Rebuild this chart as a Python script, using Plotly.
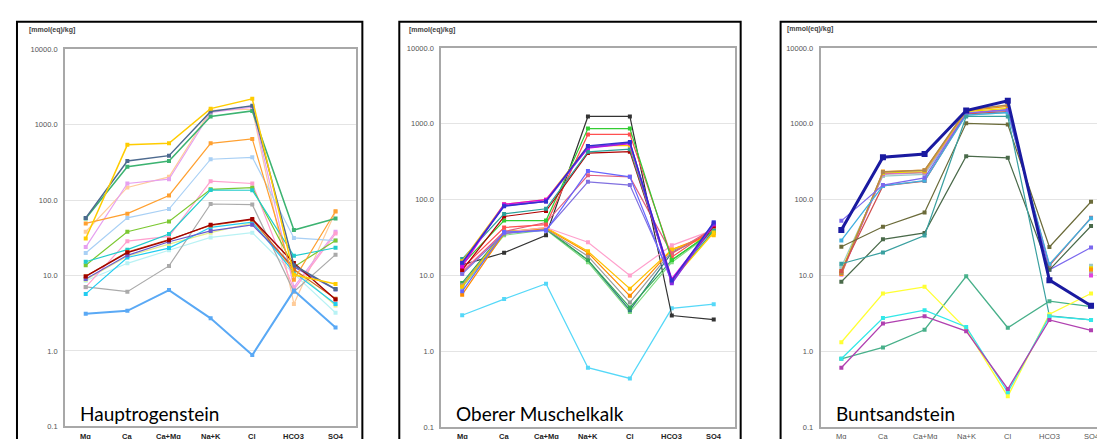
import plotly.graph_objects as go

categories = ["Mg", "Ca", "Ca+Mg", "Na+K", "Cl", "HCO3", "SO4"]
y_tickvals = [0.1, 1, 10, 100, 1000, 10000]
y_ticktext = ["0.1", "1.0", "10.0", "100.0", "1000.0", "10000.0"]
unit_label = "[mmol(eq)/kg]"
panel_titles = ["Hauptrogenstein", "Oberer Muschelkalk", "Buntsandstein"]

# ---------------- Hauptrogenstein ----------------
hr_lightcyan = [8.5, 14.5, 21.6, 32, 37, 10.5, 3.2]
hr_paleyellow = [8.8, 18, 26, 37, 49.6, 12, 4.0]
hr_peach = [38, 147, 203, 1550, 1600, 4.2, 70]
hr_violet = [23.8, 166, 189, 1450, 1700, 7, 38]
hr_pink = [7, 28.5, 33, 178, 166, 6.5, 36]
hr_lightblue = [19.9, 58, 76, 348, 369, 31.5, 29]
hr_grey = [7.05, 6.1, 13.4, 88.7, 87, 6.1, 18.9]
hr_lime = [13.7, 38, 52, 139, 146, 13, 29]
hr_turq = [15.2, 22, 35.5, 136, 135, 18.2, 23.3]
hr_cyan = [5.7, 17.3, 23.1, 43.5, 51, 11, 4.2]
hr_purple = [9.0, 18.5, 28, 39, 47, 13, 6.5]
hr_brown = [9.8, 20.5, 30, 46, 55, 12, 4.9]
hr_darkred = [9.7, 20.1, 29.4, 46.9, 56, 14.6, 4.8]
hr_orange = [49, 66, 115, 566, 646, 8.8, 71]
hr_green = [57, 277, 330, 1280, 1520, 40, 57]
hr_slate = [58, 330, 388, 1490, 1780, 13.7, 6.6]
hr_gold = [31, 540, 566, 1630, 2200, 10.2, 7.7]
hr_blue = [3.1, 3.4, 6.4, 2.7, 0.88, 6.3, 2.05]

# ---------------- Oberer Muschelkalk ----------------
om_cyan = [3.0, 4.9, 7.8, 0.61, 0.44, 3.7, 4.2]
om_black = [13.8, 20, 34, 1250, 1250, 2.97, 2.63]
om_lightgreen = [7.0, 34, 40, 15, 3.3, 15, 38]
om_teal2 = [7.5, 36, 41, 16, 3.5, 20, 38]
om_green2 = [8.0, 38, 41, 16, 3.8, 16, 39]
om_grey = [7.5, 37, 41, 18, 4.4, 21, 37]
om_orange = [5.6, 36, 42, 20, 5.4, 22, 36]
om_gold = [7.2, 37.5, 43, 20.9, 6.7, 22, 34]
om_pink = [11.5, 37, 43, 27.5, 10, 25, 40]
om_rose = [11, 38, 50, 210, 200, 19.5, 42]
om_slateviolet = [10.5, 36, 40, 172, 156, 9, 42]
om_blueviolet = [6.2, 37.5, 39, 239, 200, 8.2, 50]
om_red = [12.5, 43, 47, 725, 725, 17.5, 42]
om_green = [14, 53, 53, 865, 865, 16, 39]
om_darkred = [11.8, 60, 71, 411, 430, 8.7, 45]
om_teal = [16.5, 65, 76, 428, 463, 8.7, 39]
om_yellow = [15.5, 87, 100, 510, 520, 8.5, 37]
om_magenta = [13.2, 87, 100, 480, 550, 9, 47]
om_purple = [14.5, 84, 95, 490, 560, 7.9, 48]
om_blue = [14.8, 82, 95, 512, 576, 8.6, 50]

# ---------------- Buntsandstein ----------------
bs_lightteal = [13, 205, 215, 1300, 1400, None, 13.5]
bs_grey = [11, 215, 225, 1350, 1500, None, 11]
bs_magenta2 = [10.3, 220, 230, 1400, 1550, None, 10]
bs_yellow2 = [11.5, 225, 235, 1450, 1600, None, 12.5]
bs_orange = [10.5, 235, 245, 1480, 1700, None, 12]
bs_tan = [10.8, 232, 244, 1520, 1770, None, None]
bs_red = [11.5, 152, 176, 1350, 1450, 13.5, 58]
bs_skyblue = [29, 152, 178, 1300, 1410, 14.1, 57]
bs_blueviolet = [52.6, 156, 194, 1380, 1525, 11.9, 23.4]
bs_olive = [24, 44, 68, 1016, 977, 23.8, 94]
bs_darkgreen = [8.3, 30, 36.5, 374, 356, 11.9, 45]
bs_teal = [14.3, 20.2, 33.7, 1250, 1250, 2.95, 2.6]
bs_seagreen = [0.8, 1.13, 1.93, 9.8, 2.05, 4.6, 3.9]
bs_yellow = [1.32, 5.8, 7.1, 1.97, 0.256, 3.1, 5.8]
bs_cyan = [0.8, 2.75, 3.5, 2.1, 0.29, 2.9, 2.6]
bs_violet = [0.61, 2.33, 2.9, 1.85, 0.32, 2.6, 1.9]
bs_navy = [39.9, 363, 401, 1495, 2010, 8.7, 4.0]

panel1 = [
    (hr_lightcyan, "#b8f2f4", 1.2), (hr_paleyellow, "#e4ef8c", 1.2),
    (hr_peach, "#ffcc99", 1.2), (hr_violet, "#e6a0f0", 1.2),
    (hr_pink, "#ff9fce", 1.2), (hr_lightblue, "#a9d0f5", 1.2),
    (hr_grey, "#aaaaaa", 1.2), (hr_lime, "#7cc832", 1.2),
    (hr_turq, "#22cccc", 1.2), (hr_cyan, "#22ccf0", 1.2),
    (hr_purple, "#6a5acd", 1.2), (hr_brown, "#d2691e", 1.2),
    (hr_darkred, "#a00000", 1.4), (hr_orange, "#ffa030", 1.2),
    (hr_green, "#3cb371", 1.5), (hr_slate, "#4d6a8f", 1.5),
    (hr_gold, "#ffcc00", 1.5), (hr_blue, "#5aa9f5", 2.0),
]
panel2 = [
    (om_cyan, "#55d8f8", 1.3), (om_black, "#333333", 1.2),
    (om_lightgreen, "#80dd80", 1.2), (om_teal2, "#2f7f7f", 1.2),
    (om_green2, "#33aa55", 1.2), (om_grey, "#999999", 1.2),
    (om_orange, "#ff8c00", 1.2), (om_gold, "#ffc000", 1.2),
    (om_pink, "#ffa0cc", 1.2), (om_rose, "#e06080", 1.2),
    (om_slateviolet, "#8070e0", 1.2), (om_blueviolet, "#6666ff", 1.2),
    (om_red, "#ff5050", 1.2), (om_green, "#33cc33", 1.2),
    (om_darkred, "#b00000", 1.2), (om_teal, "#2aa198", 1.2),
    (om_yellow, "#ffd000", 1.3), (om_magenta, "#e000e0", 1.4),
    (om_purple, "#8a2be2", 1.8), (om_blue, "#3030d0", 1.4),
]
panel3 = [
    (bs_lightteal, "#9cc8c8", 1.2), (bs_grey, "#b0b0b0", 1.2),
    (bs_magenta2, "#e040e0", 1.2), (bs_yellow2, "#e8e000", 1.2),
    (bs_orange, "#ff9900", 1.2), (bs_tan, "#b08850", 1.4),
    (bs_red, "#d05050", 1.2), (bs_skyblue, "#40b0e0", 1.3),
    (bs_blueviolet, "#7b68ee", 1.2), (bs_olive, "#6b6b3a", 1.2),
    (bs_darkgreen, "#4a6a4a", 1.2), (bs_teal, "#3aa0a0", 1.2),
    (bs_seagreen, "#48b08a", 1.3), (bs_yellow, "#ffff33", 1.3),
    (bs_cyan, "#33e8e8", 1.3), (bs_violet, "#b040b0", 1.3),
    (bs_navy, "#1a1aa0", 3.0),
]

W, H = 1105, 439
fig = go.Figure()

# plot-area pixel geometry: (left, right, top, bottom, x-range end)
geoms = [
    (57, 349, 38, 423, 6.5),
    (434, 728, 36.7, 424, 6.5),
    (814, 1105, 36.7, 424, 6.48),
]
frames = [(9, 355), (392, 734), (774, 1115)]
panels = [panel1, panel2, panel3]
label_pos = [(19, 18), (400, 18), (778, 17)]
tick_bold = [True, True, False]

for i, (series, g) in enumerate(zip(panels, geoms)):
    left, right, top, bottom, xend = g
    xa = "xaxis" if i == 0 else f"xaxis{i+1}"
    ya = "yaxis" if i == 0 else f"yaxis{i+1}"
    xr = "x" if i == 0 else f"x{i+1}"
    yr = "y" if i == 0 else f"y{i+1}"
    for vals, col, lw in series:
        fig.add_trace(go.Scatter(
            x=categories, y=vals, mode="lines+markers", xaxis=xr, yaxis=yr,
            line=dict(color=col, width=lw),
            marker=dict(symbol="square", size=4 if lw < 2.5 else 6, color=col),
            connectgaps=False, showlegend=False, hoverinfo="skip"))
    fig.update_layout(**{
        xa: dict(domain=[left / W, min(right / W, 1.0)], anchor=yr,
                 type="category", categoryorder="array", categoryarray=categories,
                 range=[-0.5, xend], showgrid=False, showline=True, mirror=True,
                 linecolor="#a8a8a8", linewidth=1.5, showticklabels=False,
                 zeroline=False),
        ya: dict(domain=[(H - bottom) / H, (H - top) / H], anchor=xr,
                 type="log", range=[-1, 4], tickvals=y_tickvals, ticktext=y_ticktext,
                 showgrid=True, gridcolor="#e4e4e4", gridwidth=1.2,
                 showline=True, mirror=True, linecolor="#a8a8a8", linewidth=1.5,
                 ticks="outside", ticklen=4, tickcolor="rgba(0,0,0,0)",
                 tickfont=dict(family="Liberation Sans", size=7.5, color="#555555"),
                 zeroline=False),
    })
    # category labels below the plot
    xfont = dict(family="Liberation Sans", size=7.5,
                 color="#222222" if tick_bold[i] else "#555555",
                 weight="bold" if tick_bold[i] else "normal")
    for c in categories:
        fig.add_annotation(xref=xr, yref="paper", x=c, y=(H - 433) / H,
                           text=c, showarrow=False, xanchor="center",
                           yanchor="middle", font=xfont)
    # black outer frame
    fl, fr = frames[i]
    fig.add_shape(type="rect", xref="paper", yref="paper",
                  x0=fl / W, x1=fr / W, y0=-0.1, y1=(H - 10) / H,
                  line=dict(color="black", width=2), fillcolor="rgba(0,0,0,0)",
                  layer="above")
    lx, ly = label_pos[i]
    fig.add_annotation(xref="paper", yref="paper", x=lx / W, y=(H - ly) / H,
                       text=unit_label, showarrow=False, xanchor="left",
                       yanchor="middle",
                       font=dict(family="Liberation Sans", size=7,
                                 color="#444444", weight="bold"))
    fig.add_annotation(xref="paper", yref="paper", x=(left + 13) / W,
                       y=(H - 410) / H, text=panel_titles[i], showarrow=False,
                       xanchor="left", yanchor="middle",
                       font=dict(family="Lato", size=19, color="black"))

fig.update_layout(width=W, height=H, margin=dict(l=0, r=0, t=0, b=0),
                  paper_bgcolor="white", plot_bgcolor="white")
fig.write_html("out.html")
